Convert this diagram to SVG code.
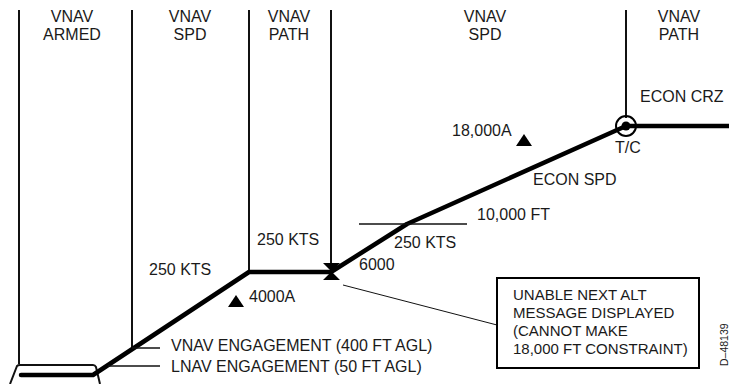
<svg xmlns="http://www.w3.org/2000/svg" width="729" height="384" viewBox="0 0 729 384">
<style>
text{font-family:"Liberation Sans",Arial,sans-serif;font-size:16px;fill:#1a1a1a}
.mid{text-anchor:middle}
.box{font-size:15px}
.div{stroke:#111;stroke-width:2;fill:none}
.thick{stroke:#000;stroke-width:4.5;fill:none;stroke-linejoin:round}
.thin{stroke:#111;stroke-width:1.5;fill:none}
.hair{stroke:#111;stroke-width:1;fill:none}
</style>
<rect width="729" height="384" fill="#fff"/>
<g id="mode-dividers">
<line class="div" x1="19" y1="10" x2="19" y2="364"/>
<line class="div" x1="132" y1="10" x2="132" y2="349"/>
<line class="div" x1="249" y1="10" x2="249" y2="272"/>
<line class="div" x1="331" y1="10" x2="331" y2="264"/>
<line class="div" x1="626" y1="10" x2="626" y2="118"/>
</g>
<g id="mode-armed"><text class="mid" x="72" y="22">VNAV</text><text class="mid" x="72" y="40">ARMED</text></g>
<g id="mode-spd1"><text class="mid" x="190" y="22">VNAV</text><text class="mid" x="190" y="40">SPD</text></g>
<g id="mode-path1"><text class="mid" x="289" y="22">VNAV</text><text class="mid" x="289" y="40">PATH</text></g>
<g id="mode-spd2"><text class="mid" x="485" y="22">VNAV</text><text class="mid" x="485" y="40">SPD</text></g>
<g id="mode-path2"><text class="mid" x="679" y="22">VNAV</text><text class="mid" x="679" y="40">PATH</text></g>
<g id="runway">
<path class="div" d="M10 384 L17 366 Q18 365 20 365 L93 365 Q95 365 96 367 L100 384"/>
</g>
<g id="connectors">
<path class="thick" d="M21 375 L93 375 L249 272 L331 272 L407 224 L626 126 L729 126" stroke-linecap="round"/>
<line class="thin" x1="359" y1="224" x2="467" y2="224"/>
<line class="thin" x1="132" y1="348" x2="160" y2="348"/>
<line class="thin" x1="108" y1="366" x2="160" y2="366"/>
<line class="hair" x1="343" y1="285" x2="497" y2="325"/>
</g>
<g id="tc">
<circle cx="626" cy="126" r="10" fill="none" stroke="#000" stroke-width="2"/>
<circle cx="626" cy="126" r="4.5" fill="#000"/>
<text x="615" y="153">T/C</text>
</g>
<g id="constraint-6000">
<polygon points="323,263 340,263 331.5,271.5 340,280 323,280 331.5,271.5" fill="#000"/>
<text x="359" y="270">6000</text>
</g>
<g id="constraint-4000">
<polygon points="236,295 244,307 228,307" fill="#000"/>
<text x="249" y="302">4000A</text>
</g>
<g id="constraint-18000">
<polygon points="524,134 532,146 516,146" fill="#000"/>
<text x="452" y="136">18,000A</text>
</g>
<g id="labels">
<text x="640" y="102">ECON CRZ</text>
<text x="533" y="185">ECON SPD</text>
<text x="477" y="220">10,000 FT</text>
<text x="394" y="248">250 KTS</text>
<text x="257" y="245">250 KTS</text>
<text x="149" y="275">250 KTS</text>
<text x="171" y="351">VNAV ENGAGEMENT (400 FT AGL)</text>
<text x="171" y="372">LNAV ENGAGEMENT (50 FT AGL)</text>
</g>
<g id="callout">
<rect x="497" y="278" width="202" height="90" fill="#fff" stroke="#000" stroke-width="2"/>
<text class="box" x="513" y="300">UNABLE NEXT ALT</text>
<text class="box" x="513" y="318">MESSAGE DISPLAYED</text>
<text class="box" x="513" y="336">(CANNOT MAKE</text>
<text class="box" x="513" y="354">18,000 FT CONSTRAINT)</text>
</g>
<text transform="translate(728,366) rotate(-90)" style="font-size:10.5px">D–48139</text>
</svg>
